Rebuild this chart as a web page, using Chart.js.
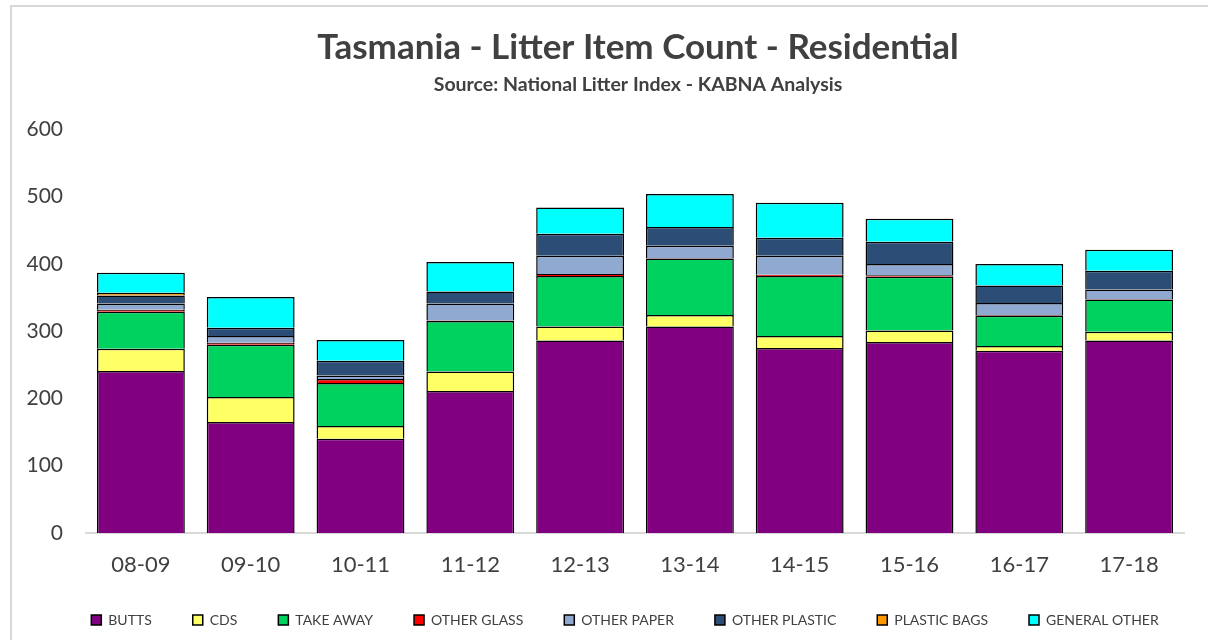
<!DOCTYPE html>
<html>
<head>
<meta charset="utf-8">
<script src="https://cdn.jsdelivr.net/npm/chart.js@4"></script>
<style>
    body { margin: 0; background: #fff; }
    #wrap { position: relative; width: 1208px; height: 640px; }
    /* Ljusgrå ram runt diagrammet, som i Excel */
    #frame { position: absolute; left: 10px; top: 5px; width: 1300px; height: 700px;
             border-left: 2px solid #d9d9d9; border-top: 2px solid #d9d9d9; pointer-events: none; }
</style>
</head>
<body>
<div id="wrap">
    <div id="frame"></div>
    <canvas id="bar-chart" width="1208" height="640"></canvas>
</div>
<script>
"use strict";

// Årsperioder på x-axeln
const years = ['08-09', '09-10', '10-11', '11-12', '12-13', '13-14', '14-15', '15-16', '16-17', '17-18'];

// Antal skräpföremål per kategori
const butts        = [241, 165, 140, 211, 286, 307, 275, 284, 271, 286];
const cds          = [ 33,  37,  19,  29,  21,  17,  18,  17,   7,  13];
const takeAway     = [ 55,  78,  64,  75,  75,  84,  89,  80,  45,  48];
const otherGlass   = [  3,   3,   6,   1,   3,   1,   2,   2,   1,   1];
const otherPaper   = [  9,  10,   5,  25,  27,  18,  28,  17,  18,  14];
const otherPlastic = [ 12,  12,  22,  18,  33,  28,  27,  33,  26,  28];
const plasticBags  = [  4,   0,   0,   0,   0,   0,   0,   0,   0,   0];
const generalOther = [ 30,  46,  31,  44,  39,  49,  52,  34,  32,  31];

// Y-axelns steg
const yTicks = [0, 100, 200, 300, 400, 500, 600];

const titleText = 'Tasmania - Litter Item Count - Residential';
const subtitleText = 'Source: National Litter Index - KABNA Analysis';
const textColor = '#404040';
const fontFamily = 'Lato, "Open Sans", sans-serif';

// Hjälpfunktion för en serie i stapeln
function series(label, data, color) {
    return {
        label: label,
        data: data,
        backgroundColor: color,
        borderColor: '#000000',
        borderWidth: 1.5
    };
}

// Flyttar rubrik och förklaring i sidled, som i Excel-originalet
const shiftBoxes = {
    id: 'shiftBoxes',
    afterInit(chart) {
        chart.boxes.forEach(box => {
            let dx = 0;
            if (box === chart.legend) {
                dx = 33;
            } else if (box.options && (box.options.text === titleText || box.options.text === subtitleText)) {
                dx = 46;
            } else {
                return;
            }
            const draw = box.draw;
            box.draw = function (area) {
                this.ctx.save();
                this.ctx.translate(dx, 0);
                draw.call(this, area);
                this.ctx.restore();
            };
        });
    }
};

new Chart(document.getElementById('bar-chart'), {
    type: 'bar',
    data: {
        labels: years,
        datasets: [
            series('BUTTS', butts, '#800080'),
            series('CDS', cds, '#FFFF66'),
            series('TAKE AWAY', takeAway, '#00D260'),
            series('OTHER GLASS', otherGlass, '#FF0000'),
            series('OTHER PAPER', otherPaper, '#8FA9D1'),
            series('OTHER PLASTIC', otherPlastic, '#2B4D76'),
            series('PLASTIC BAGS', plasticBags, '#FF9900'),
            series('GENERAL OTHER', generalOther, '#00FFFF')
        ]
    },
    plugins: [shiftBoxes],
    options: {
        responsive: false,
        animation: false,
        categoryPercentage: 0.8,
        barPercentage: 1.0,
        layout: {
            padding: { top: 27, left: 0, right: 24, bottom: 3 }
        },
        plugins: {
            title: {
                display: true,
                text: titleText,
                color: textColor,
                font: { family: fontFamily, size: 35, weight: 'bold' },
                padding: { top: 0, bottom: 4 }
            },
            subtitle: {
                display: true,
                text: subtitleText,
                color: textColor,
                font: { family: fontFamily, size: 19.5, weight: 'bold' },
                padding: { top: 0, bottom: 33 }
            },
            legend: {
                position: 'bottom',
                labels: {
                    boxWidth: 10,
                    boxHeight: 10,
                    padding: 41,
                    color: textColor,
                    font: { family: fontFamily, size: 14 }
                }
            },
            tooltip: { enabled: false }
        },
        scales: {
            x: {
                stacked: true,
                afterFit: axis => { axis.height = 39; },
                grid: { display: false },
                border: { display: true, color: '#d9d9d9', width: 2 },
                ticks: {
                    color: textColor,
                    padding: 11,
                    font: { family: fontFamily, size: 22 }
                }
            },
            y: {
                stacked: true,
                min: 0,
                max: 600,
                afterBuildTicks: axis => {
                    axis.ticks = yTicks.map(v => ({ value: v }));
                },
                afterFit: axis => { axis.width = 86; },
                grid: { display: false, drawTicks: false },
                border: { display: false },
                ticks: {
                    color: textColor,
                    padding: 23,
                    font: { family: fontFamily, size: 21 }
                }
            }
        }
    }
});
</script>
</body>
</html>
